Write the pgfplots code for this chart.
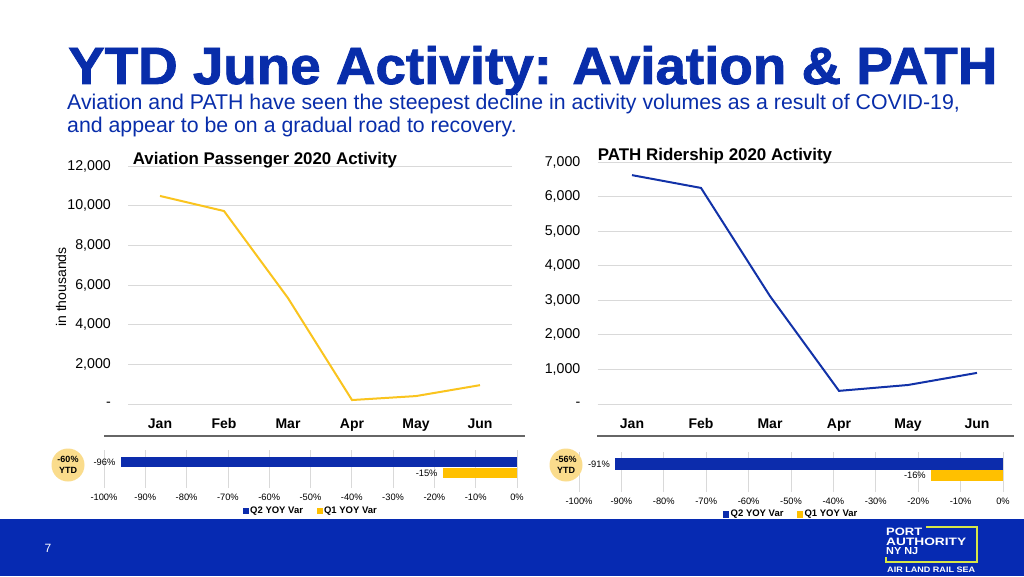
\documentclass[border=0pt]{standalone}
\usepackage{pgfplots}
\pgfplotsset{compat=1.18}
\usepackage{graphicx}
\usepackage{fontspec}
\setmainfont{Liberation Sans}
\newfontfamily\titlefont[BoldFeatures={FakeBold=1.5}]{Liberation Sans}
\definecolor{titleblue}{RGB}{8,45,170}
\definecolor{footblue}{RGB}{6,42,178}
\definecolor{barblue}{RGB}{12,44,172}
\definecolor{lineblue}{RGB}{18,50,168}
\definecolor{baryellow}{RGB}{255,192,0}
\definecolor{lineyellow}{RGB}{250,196,30}
\definecolor{circyellow}{RGB}{250,220,140}
\definecolor{gridgray}{RGB}{217,217,217}
\definecolor{logogreen}{RGB}{215,230,70}
\pgfplotsset{
  linechart/.style={
    anchor=south west, scale only axis,
    xmin=-0.5, xmax=5.5, ymin=0,
    axis line style={draw=none}, major tick length=0pt,
    ymajorgrids, grid style={gridgray, line width=0.8pt},
    xtick={0,1,2,3,4,5}, xticklabels={Jan,Feb,Mar,Apr,May,Jun},
    xticklabel style={font=\fontsize{14}{14}\selectfont\bfseries, anchor=base, inner sep=0pt, yshift=-24pt},
    yticklabel style={font=\fontsize{14.2}{14}\selectfont, anchor=east, inner sep=0pt, xshift=-17pt},
    scaled y ticks=false, clip=false,
  },
  barchart/.style={
    anchor=south west, scale only axis,
    xbar, bar shift=0pt,
    xmin=-100, xmax=0,
    axis line style={draw=none}, major tick length=0pt,
    xmajorgrids, grid style={gridgray, line width=0.8pt},
    ytick=\empty,
    xtick={-100,-90,...,0},
    xticklabels={-100\%,-90\%,-80\%,-70\%,-60\%,-50\%,-40\%,-30\%,-20\%,-10\%,0\%},
    xticklabel style={font=\fontsize{9.3}{10}\selectfont, anchor=north, inner sep=0pt, yshift=-6pt},
    scaled x ticks=false, clip=false,
    nodes near coords, point meta=explicit symbolic,
    every node near coord/.append style={anchor=east, font=\fontsize{9.3}{10}\selectfont, inner sep=0pt, xshift=-5pt},
    legend columns=2,
    legend image code/.code={\draw[#1,draw=none] (0pt,-3.2pt) rectangle (6pt,3.2pt);},
    legend style={draw=none, fill=none, font=\fontsize{9.5}{10}\selectfont\bfseries,
      /tikz/every even column/.append style={column sep=12pt},
      nodes={inner sep=1.5pt}},
  },
}
\begin{document}
\begin{tikzpicture}[x=1pt,y=1pt]
\useasboundingbox (0,0) rectangle (1024,576);
\fill[white] (0,0) rectangle (1024,576);
\fill[footblue] (0,0) rectangle (1024,57);
% title
\node[anchor=base west, inner sep=0pt, text=titleblue] at (68,492)
  {\resizebox{929pt}{38pt}{\titlefont\bfseries YTD June Activity: Aviation \& PATH}};
\node[anchor=base west, inner sep=0pt, text=titleblue, font=\fontsize{21.3}{24}\selectfont] at (67,466)
  {Aviation and PATH have seen the steepest decline in activity volumes as a result of COVID-19,};
\node[anchor=base west, inner sep=0pt, text=titleblue, font=\fontsize{21.3}{24}\selectfont] at (67,443)
  {and appear to be on a gradual road to recovery.};
% left line chart
\begin{axis}[linechart, at={(128pt,172pt)}, width=384pt, height=238pt,
  ymax=12000, ytick={0,2000,4000,6000,8000,10000,12000},
  yticklabels={-\hspace{11pt},{2,000},{4,000},{6,000},{8,000},{10,000},{12,000}}]
\addplot[color=lineyellow, line width=2pt] coordinates
  {(0,10490) (1,9730) (2,5340) (3,200) (4,400) (5,950)};
\end{axis}
\node[font=\fontsize{16.9}{17}\selectfont\bfseries] at (265,416) {Aviation Passenger 2020 Activity};
\node[rotate=90, font=\fontsize{14}{14}\selectfont] at (61,289) {in thousands};
\draw[gray!80!black, line width=2pt] (104,140) -- (525,140);
% right line chart
\begin{axis}[linechart, at={(597.5pt,172pt)}, width=414pt, height=242pt,
  ymax=7000, ytick={0,1000,2000,3000,4000,5000,6000,7000},
  yticklabels={-\hspace{11pt},{1,000},{2,000},{3,000},{4,000},{5,000},{6,000},{7,000}}]
\addplot[color=lineblue, line width=2pt] coordinates
  {(0,6620) (1,6250) (2,3120) (3,380) (4,550) (5,900)};
\end{axis}
\node[font=\fontsize{16.9}{17}\selectfont\bfseries] at (715,420) {PATH Ridership 2020 Activity};
\draw[gray!80!black, line width=2pt] (597,140) -- (1014,140);
% left bar chart
\begin{axis}[barchart, at={(104pt,88pt)}, width=413pt, height=38pt,
  ymin=-1.36, ymax=2.09, bar width=10pt,
  legend style={at={(0.5,-0.6)}, anchor=center}]
\addplot[fill=barblue, draw=none] coordinates {(-96,1) [-96\%]};
\addplot[fill=baryellow, draw=none] coordinates {(-18,0) [-15\%]};
\legend{Q2 YOY Var, Q1 YOY Var}
\end{axis}
\node[circle, fill=circyellow, minimum size=33pt, inner sep=0pt, align=center,
  font=\fontsize{9}{10.5}\selectfont\bfseries] at (68,111) {-60\%\\YTD};
% right bar chart
\begin{axis}[barchart, at={(579pt,84pt)}, width=424pt, height=40pt,
  ymin=-1.43, ymax=2.04,
  legend style={at={(0.5,-0.56)}, anchor=center}]
\addplot[fill=barblue, draw=none, bar width=12pt] coordinates {(-91.5,1) [-91\%]};
\addplot[fill=baryellow, draw=none, bar width=11pt] coordinates {(-17,0) [-16\%]};
\legend{Q2 YOY Var, Q1 YOY Var}
\end{axis}
\node[circle, fill=circyellow, minimum size=33pt, inner sep=0pt, align=center,
  font=\fontsize{9}{10.5}\selectfont\bfseries] at (566,111) {-56\%\\YTD};
% footer
\node[text=white, font=\fontsize{12}{12}\selectfont] at (48,28) {7};
\draw[logogreen, line width=1.5pt] (926,49) -- (977,49) -- (977,14) -- (886,14) -- (886,19.5);
\node[anchor=base west, inner sep=0pt, text=white] at (886,41) {\resizebox{36pt}{7.5pt}{\bfseries PORT}};
\node[anchor=base west, inner sep=0pt, text=white] at (886,31) {\resizebox{80pt}{7.5pt}{\bfseries AUTHORITY}};
\node[anchor=base west, inner sep=0pt, text=white] at (886,22) {\resizebox{32pt}{7pt}{\bfseries NY NJ}};
\node[anchor=base west, inner sep=0pt, text=white] at (887,4) {\resizebox{88pt}{5.5pt}{\bfseries AIR LAND RAIL SEA}};
\end{tikzpicture}
\end{document}
